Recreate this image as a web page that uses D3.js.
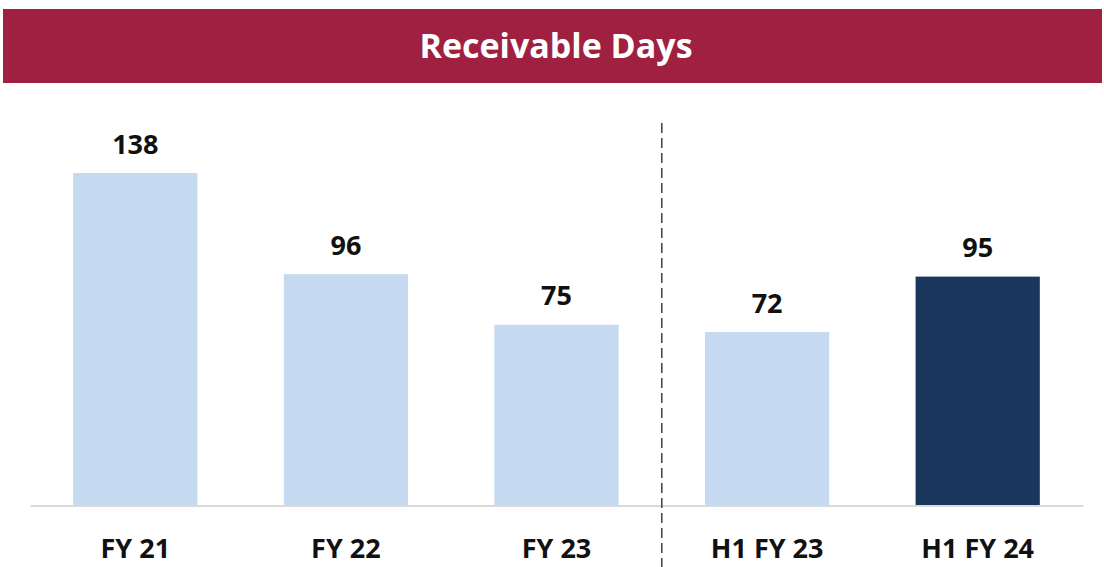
<!DOCTYPE html>
<html>
<head>
<meta charset="utf-8">
<script src="https://cdn.jsdelivr.net/npm/d3@7"></script>
<style>
  html, body { margin: 0; padding: 0; background: #ffffff; }
  svg { display: block; }
</style>
</head>
<body>
<svg id="chart" width="1104" height="567"></svg>
<script>
const title = "Receivable Days";
const categories = ["FY 21", "FY 22", "FY 23", "H1 FY 23", "H1 FY 24"];
const values = [138, 96, 75, 72, 95];
const highlighted = ["H1 FY 24"];
const dividerAfter = "FY 23";

const svg = d3.select("#chart");
const W = 1104, H = 567;

// Title banner
svg.append("rect")
  .attr("x", 3).attr("y", 9).attr("width", 1099).attr("height", 74)
  .attr("fill", "#A02042");
svg.append("text")
  .attr("x", 556).attr("y", 58)
  .attr("text-anchor", "middle")
  .attr("font-family", "Open Sans, sans-serif")
  .attr("font-weight", "bold")
  .attr("font-size", 34)
  .attr("fill", "#ffffff")
  .text(title);

const x = d3.scaleBand()
  .domain(categories)
  .range([30, 1083])
  .paddingInner(0.41)
  .paddingOuter(0.205);

const y = d3.scaleLinear()
  .domain([0, 138])
  .range([505.5, 173]);

// Bars
svg.append("g").selectAll("rect")
  .data(categories)
  .join("rect")
  .attr("x", d => x(d))
  .attr("width", x.bandwidth())
  .attr("y", (d, i) => y(values[i]))
  .attr("height", (d, i) => y(0) - y(values[i]))
  .attr("fill", d => highlighted.includes(d) ? "#1A365D" : "#C5D9F1");

// Baseline axis
const axis = d3.axisBottom(x).tickSize(0).tickPadding(0);
const gx = svg.append("g")
  .attr("transform", `translate(0,${y(0)})`)
  .call(axis);
gx.select(".domain")
  .attr("stroke", "#D9D9D9")
  .attr("stroke-width", 2);
gx.selectAll(".tick text")
  .attr("dy", null)
  .attr("y", 52)
  .attr("font-family", "Open Sans, sans-serif")
  .attr("font-weight", "bold")
  .attr("font-size", 27)
  .attr("fill", "#111111");

// Value labels
svg.append("g").selectAll("text")
  .data(categories)
  .join("text")
  .attr("x", d => x(d) + x.bandwidth() / 2)
  .attr("y", (d, i) => y(values[i]) - 19.5)
  .attr("text-anchor", "middle")
  .attr("font-family", "Open Sans, sans-serif")
  .attr("font-weight", "bold")
  .attr("font-size", 27)
  .attr("fill", "#111111")
  .text((d, i) => values[i]);

// Dashed divider
const i0 = categories.indexOf(dividerAfter);
const divX = (x(categories[i0]) + x.bandwidth() + x(categories[i0 + 1])) / 2;
svg.append("line")
  .attr("x1", divX).attr("x2", divX)
  .attr("y1", 123).attr("y2", H)
  .attr("stroke", "#404040")
  .attr("stroke-width", 1.5)
  .attr("stroke-dasharray", "10,5");
</script>
</body>
</html>
